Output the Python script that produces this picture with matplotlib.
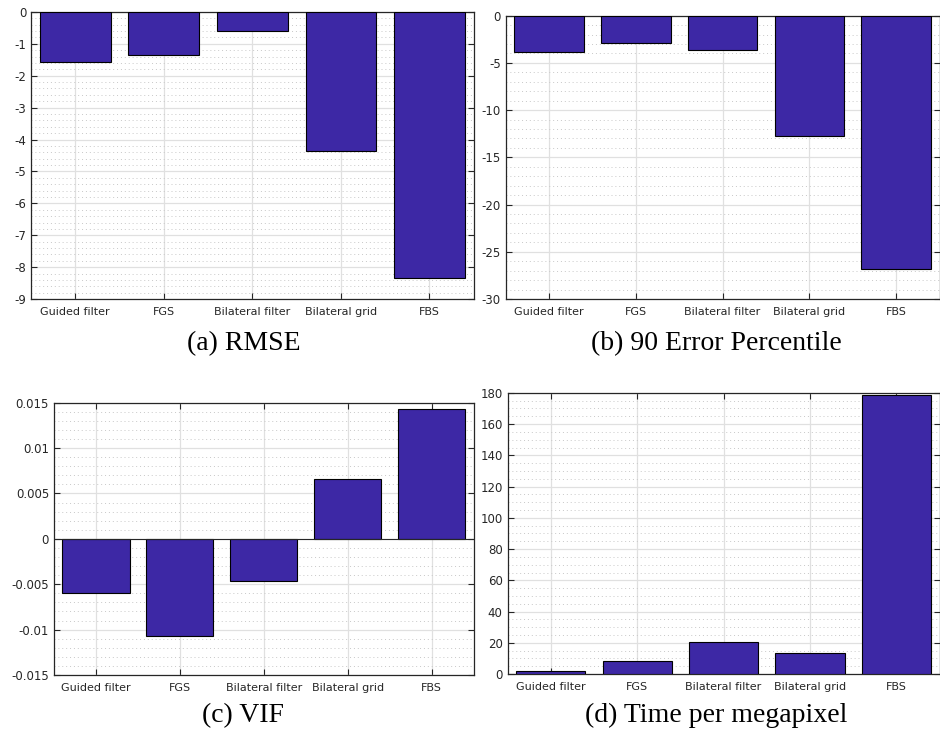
import numpy as np
import matplotlib.pyplot as plt
from matplotlib.ticker import MultipleLocator

# data
methods = ['Guided filter', 'FGS', 'Bilateral filter', 'Bilateral grid', 'FBS']
rmse = [-1.58, -1.36, -0.61, -4.35, -8.34]
err90 = [-3.88, -2.86, -3.60, -12.74, -26.86]
vif = [-0.00594, -0.0107, -0.00462, 0.00656, 0.0143]
time_mp = [1.9, 8.1, 20.7, 13.2, 178.9]

captions = ['(a) RMSE', '(b) 90 Error Percentile', '(c) VIF', '(d) Time per megapixel']
ylims = [(-9, 0), (-30, 0), (-0.015, 0.015), (0, 180)]
major = [1, 5, 0.005, 20]
minor = [0.2, 1, 0.001, 5]
yticklabels = [
    ['-9', '-8', '-7', '-6', '-5', '-4', '-3', '-2', '-1', '0'],
    ['-30', '-25', '-20', '-15', '-10', '-5', '0'],
    ['-0.015', '-0.01', '-0.005', '0', '0.005', '0.01', '0.015'],
    ['0', '20', '40', '60', '80', '100', '120', '140', '160', '180'],
]

# axes boxes in figure fractions [left, bottom, width, height]
boxes = [
    [0.033, 0.598, 0.471, 0.386],
    [0.538, 0.598, 0.4615, 0.381],
    [0.0574, 0.0927, 0.4466, 0.366],
    [0.540, 0.094, 0.4595, 0.378],
]
cap_pos = [(0.259, 0.538), (0.762, 0.538), (0.259, 0.038), (0.762, 0.038)]

bar_col = '#3d28a5'
txt_col = '#262626'

fig = plt.figure(figsize=(9.4, 7.44), dpi=100)
series = [rmse, err90, vif, time_mp]
x = np.arange(1, len(methods) + 1)

for i in range(4):
    ax = fig.add_axes(boxes[i])
    ax.bar(x, series[i], width=0.8, color=bar_col, edgecolor='black', linewidth=0.8, zorder=3)
    ax.set_xlim(0.5, 5.5)
    ax.set_ylim(*ylims[i])
    ax.set_xticks(x)
    ax.set_xticklabels(methods, fontsize=8, color=txt_col)
    lo, hi = ylims[i]
    ticks = np.linspace(lo, hi, len(yticklabels[i]))
    ax.set_yticks(ticks)
    ax.set_yticklabels(yticklabels[i], fontsize=8.5, color=txt_col)
    ax.yaxis.set_minor_locator(MultipleLocator(minor[i]))
    ax.grid(True, which='major', color='#e0e0e0', linewidth=0.9, zorder=0)
    ax.grid(True, which='minor', axis='y', color='#c8c8c8', linestyle=(0, (1, 3)), linewidth=0.7, zorder=0)
    ax.tick_params(which='both', direction='in', top=True, right=True, colors=txt_col, length=4, width=0.8)
    ax.tick_params(which='minor', length=0)
    ax.tick_params(axis='x', pad=6)
    for s in ax.spines.values():
        s.set_color('#262626')
        s.set_linewidth(0.9)
    if lo < 0 < hi:
        ax.axhline(0, color='#262626', linewidth=0.8, zorder=4)
    fig.text(cap_pos[i][0], cap_pos[i][1], captions[i], ha='center', va='center',
             fontsize=20, family='Liberation Serif', color='black')

fig.savefig('out.png', dpi=100)
